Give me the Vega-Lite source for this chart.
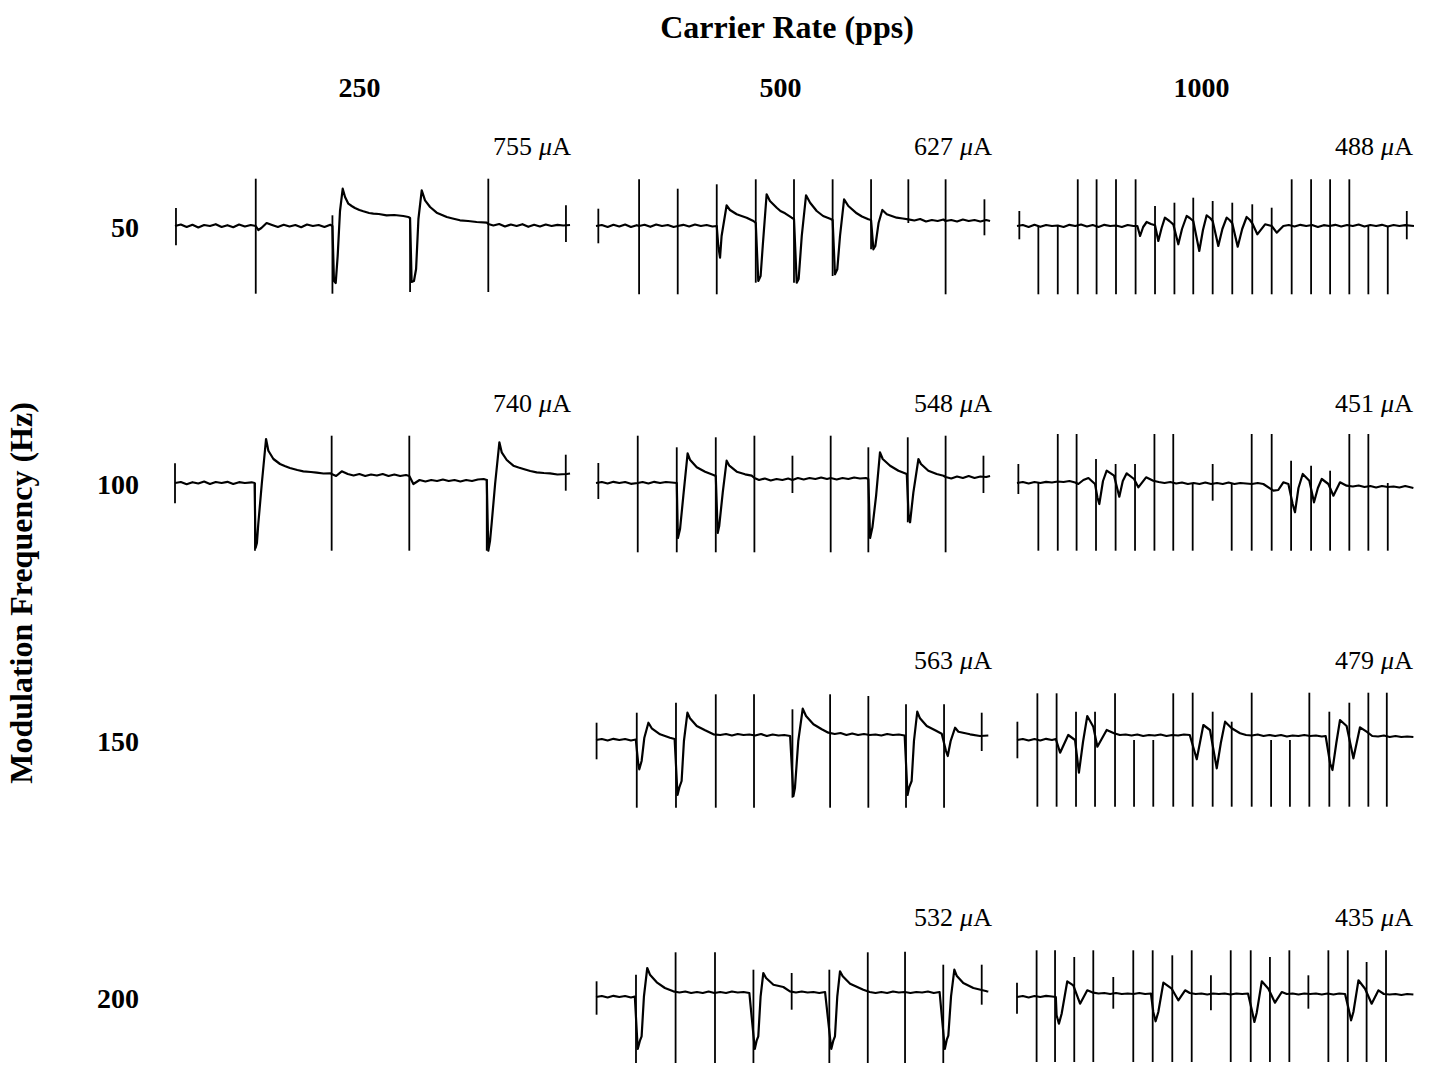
{
"$schema":"https://vega.github.io/schema/vega-lite/v6.json",
"background":"white",
"padding":{"left":6,"top":12,"right":5,"bottom":0},
"bounds":"flush",
"config":{"font":"Liberation Serif","view":{"stroke":null}},
"data":{"values":[
{"r":250,"m":50,"a":"755"},{"r":500,"m":50,"a":"627"},{"r":1000,"m":50,"a":"488"},
{"r":250,"m":100,"a":"740"},{"r":500,"m":100,"a":"548"},{"r":1000,"m":100,"a":"451"},
{"r":500,"m":150,"a":"563"},{"r":1000,"m":150,"a":"479"},
{"r":500,"m":200,"a":"532"},{"r":1000,"m":200,"a":"435"},
{"r":250,"m":50,"c":"250"},{"r":500,"m":50,"c":"500"},{"r":1000,"m":50,"c":"1000"},
{"r":250,"m":50,"h":"50"},{"r":250,"m":100,"h":"100"},{"r":250,"m":150,"h":"150"},{"r":250,"m":200,"h":"200"},
{"r":250,"m":150,"y":"Modulation Frequency (Hz)"},
{"r":500,"m":50,"ct":"Carrier Rate (pps)"},

{"r":250,"m":50,"t":0.05,"lo":-1.93,"hi":1.8},{"r":250,"m":50,"t":4.16,"lo":-6.77,"hi":4.73},{"r":250,"m":50,"t":8.11,"lo":-6.77,"hi":1.07},{"r":250,"m":50,"t":12.11,"lo":-6.6,"hi":0.73},{"r":250,"m":50,"t":16.14,"lo":-6.6,"hi":4.73},{"r":250,"m":50,"t":20.14,"lo":-1.6,"hi":2.07},

{"r":500,"m":50,"t":0.12,"lo":-1.73,"hi":1.73},{"r":500,"m":50,"t":2.22,"lo":-6.83,"hi":4.67},{"r":500,"m":50,"t":4.21,"lo":-6.83,"hi":3.73},{"r":500,"m":50,"t":6.22,"lo":-6.83,"hi":4.17},{"r":500,"m":50,"t":8.23,"lo":-5.67,"hi":4.67},{"r":500,"m":50,"t":10.2,"lo":-5.67,"hi":4.67},{"r":500,"m":50,"t":12.19,"lo":-5.0,"hi":4.67},{"r":500,"m":50,"t":14.17,"lo":-2.33,"hi":4.67},{"r":500,"m":50,"t":16.09,"lo":0.3,"hi":4.67},{"r":500,"m":50,"t":18.01,"lo":-6.83,"hi":4.67},{"r":500,"m":50,"t":20.01,"lo":-0.93,"hi":2.67},

{"r":1000,"m":50,"t":0.12,"lo":-1.33,"hi":1.5},{"r":1000,"m":50,"t":1.1,"lo":-6.83,"hi":0},{"r":1000,"m":50,"t":2.1,"lo":-6.83,"hi":0},{"r":1000,"m":50,"t":3.13,"lo":-6.83,"hi":4.67},{"r":1000,"m":50,"t":4.1,"lo":-6.83,"hi":4.67},{"r":1000,"m":50,"t":5.1,"lo":-6.83,"hi":4.67},{"r":1000,"m":50,"t":6.11,"lo":-6.83,"hi":4.67},{"r":1000,"m":50,"t":7.11,"lo":-6.83,"hi":2.0},{"r":1000,"m":50,"t":8.11,"lo":-6.83,"hi":2.33},{"r":1000,"m":50,"t":9.08,"lo":-6.83,"hi":2.83},{"r":1000,"m":50,"t":10.08,"lo":-6.83,"hi":2.5},{"r":1000,"m":50,"t":11.09,"lo":-6.83,"hi":2.33},{"r":1000,"m":50,"t":12.12,"lo":-6.83,"hi":2.17},{"r":1000,"m":50,"t":13.12,"lo":-6.83,"hi":1.83},{"r":1000,"m":50,"t":14.15,"lo":-6.83,"hi":4.67},{"r":1000,"m":50,"t":15.15,"lo":-6.83,"hi":4.67},{"r":1000,"m":50,"t":16.13,"lo":-6.83,"hi":4.67},{"r":1000,"m":50,"t":17.12,"lo":-6.83,"hi":4.67},{"r":1000,"m":50,"t":18.1,"lo":-6.83,"hi":0},{"r":1000,"m":50,"t":19.1,"lo":-6.83,"hi":0},{"r":1000,"m":50,"t":20.08,"lo":-1.33,"hi":1.5},

{"r":250,"m":100,"t":0.0,"lo":-2.03,"hi":1.97},{"r":250,"m":100,"t":4.12,"lo":-6.77,"hi":0},{"r":250,"m":100,"t":8.07,"lo":-6.77,"hi":4.73},{"r":250,"m":100,"t":12.07,"lo":-6.77,"hi":4.73},{"r":250,"m":100,"t":16.06,"lo":-6.77,"hi":0.4},{"r":250,"m":100,"t":20.13,"lo":-0.77,"hi":2.83},

{"r":500,"m":100,"t":0.12,"lo":-1.6,"hi":2.0},{"r":500,"m":100,"t":2.15,"lo":-6.93,"hi":4.73},{"r":500,"m":100,"t":4.16,"lo":-6.93,"hi":3.57},{"r":500,"m":100,"t":6.17,"lo":-6.93,"hi":4.57},{"r":500,"m":100,"t":8.16,"lo":-6.93,"hi":4.73},{"r":500,"m":100,"t":10.12,"lo":-1.0,"hi":2.73},{"r":500,"m":100,"t":12.09,"lo":-6.93,"hi":4.73},{"r":500,"m":100,"t":14.03,"lo":-6.93,"hi":3.57},{"r":500,"m":100,"t":16.06,"lo":-3.93,"hi":4.57},{"r":500,"m":100,"t":18.01,"lo":-6.93,"hi":4.73},{"r":500,"m":100,"t":19.96,"lo":-1.0,"hi":2.73},

{"r":1000,"m":100,"t":0.07,"lo":-1.1,"hi":1.9},{"r":1000,"m":100,"t":1.1,"lo":-6.77,"hi":0},{"r":1000,"m":100,"t":2.1,"lo":-6.77,"hi":4.9},{"r":1000,"m":100,"t":3.07,"lo":-6.77,"hi":4.9},{"r":1000,"m":100,"t":4.07,"lo":-6.77,"hi":2.4},{"r":1000,"m":100,"t":5.08,"lo":-6.77,"hi":1.9},{"r":1000,"m":100,"t":6.08,"lo":-6.77,"hi":1.9},{"r":1000,"m":100,"t":7.08,"lo":-6.77,"hi":4.9},{"r":1000,"m":100,"t":8.05,"lo":-6.77,"hi":4.9},{"r":1000,"m":100,"t":9.05,"lo":-6.77,"hi":0},{"r":1000,"m":100,"t":10.08,"lo":-1.77,"hi":1.9},{"r":1000,"m":100,"t":11.06,"lo":-6.77,"hi":0},{"r":1000,"m":100,"t":12.09,"lo":-6.77,"hi":4.9},{"r":1000,"m":100,"t":13.12,"lo":-6.77,"hi":4.9},{"r":1000,"m":100,"t":14.12,"lo":-6.77,"hi":2.23},{"r":1000,"m":100,"t":15.15,"lo":-6.77,"hi":1.73},{"r":1000,"m":100,"t":16.13,"lo":-6.77,"hi":1.23},{"r":1000,"m":100,"t":17.12,"lo":-6.77,"hi":4.9},{"r":1000,"m":100,"t":18.1,"lo":-6.77,"hi":4.9},{"r":1000,"m":100,"t":19.1,"lo":-6.77,"hi":0},

{"r":500,"m":150,"t":0.03,"lo":-1.93,"hi":1.73},{"r":500,"m":150,"t":2.1,"lo":-6.77,"hi":2.73},{"r":500,"m":150,"t":4.12,"lo":-6.77,"hi":3.73},{"r":500,"m":150,"t":6.17,"lo":-6.77,"hi":4.57},{"r":500,"m":150,"t":8.14,"lo":-6.77,"hi":4.57},{"r":500,"m":150,"t":10.12,"lo":-5.77,"hi":3.07},{"r":500,"m":150,"t":12.06,"lo":-6.77,"hi":4.57},{"r":500,"m":150,"t":14.03,"lo":-6.77,"hi":4.4},{"r":500,"m":150,"t":15.97,"lo":-6.77,"hi":3.57},{"r":500,"m":150,"t":17.93,"lo":-6.77,"hi":3.57},{"r":500,"m":150,"t":19.87,"lo":-1.1,"hi":2.73},

{"r":1000,"m":150,"t":0.02,"lo":-1.83,"hi":1.83},{"r":1000,"m":150,"t":1.05,"lo":-6.67,"hi":4.67},{"r":1000,"m":150,"t":2.04,"lo":-6.67,"hi":4.67},{"r":1000,"m":150,"t":3.04,"lo":-6.67,"hi":2.83},{"r":1000,"m":150,"t":4.02,"lo":-6.67,"hi":2.83},{"r":1000,"m":150,"t":5.05,"lo":-6.67,"hi":4.67},{"r":1000,"m":150,"t":6.03,"lo":-6.67,"hi":0},{"r":1000,"m":150,"t":7.02,"lo":-6.67,"hi":0},{"r":1000,"m":150,"t":8.05,"lo":-6.67,"hi":4.67},{"r":1000,"m":150,"t":9.05,"lo":-6.67,"hi":4.73},{"r":1000,"m":150,"t":10.08,"lo":-6.67,"hi":2.83},{"r":1000,"m":150,"t":11.06,"lo":-6.67,"hi":1.83},{"r":1000,"m":150,"t":12.09,"lo":-6.67,"hi":4.73},{"r":1000,"m":150,"t":13.09,"lo":-6.67,"hi":0},{"r":1000,"m":150,"t":14.06,"lo":-6.67,"hi":0},{"r":1000,"m":150,"t":15.06,"lo":-6.67,"hi":4.73},{"r":1000,"m":150,"t":16.09,"lo":-6.67,"hi":2.83},{"r":1000,"m":150,"t":17.12,"lo":-6.67,"hi":3.73},{"r":1000,"m":150,"t":18.1,"lo":-6.67,"hi":4.73},{"r":1000,"m":150,"t":19.05,"lo":-6.67,"hi":4.73},

{"r":500,"m":200,"t":0.03,"lo":-1.77,"hi":1.57},{"r":500,"m":200,"t":2.06,"lo":-6.6,"hi":2.23},{"r":500,"m":200,"t":4.1,"lo":-6.6,"hi":4.47},{"r":500,"m":200,"t":6.13,"lo":-6.6,"hi":4.47},{"r":500,"m":200,"t":8.11,"lo":-6.6,"hi":2.73},{"r":500,"m":200,"t":10.08,"lo":-1.27,"hi":2.4},{"r":500,"m":200,"t":12.02,"lo":-6.6,"hi":2.73},{"r":500,"m":200,"t":14.0,"lo":-6.6,"hi":4.47},{"r":500,"m":200,"t":15.92,"lo":-6.6,"hi":4.53},{"r":500,"m":200,"t":17.89,"lo":-6.6,"hi":3.23},{"r":500,"m":200,"t":19.87,"lo":-0.77,"hi":3.23},

{"r":1000,"m":200,"t":0.0,"lo":-1.67,"hi":1.43},{"r":1000,"m":200,"t":1.01,"lo":-6.5,"hi":4.67},{"r":1000,"m":200,"t":1.96,"lo":-6.5,"hi":4.67},{"r":1000,"m":200,"t":2.95,"lo":-6.5,"hi":4.0},{"r":1000,"m":200,"t":3.93,"lo":-6.5,"hi":4.67},{"r":1000,"m":200,"t":4.96,"lo":-1.17,"hi":2.0},{"r":1000,"m":200,"t":5.99,"lo":-6.5,"hi":4.67},{"r":1000,"m":200,"t":6.99,"lo":-6.5,"hi":4.67},{"r":1000,"m":200,"t":8.0,"lo":-6.5,"hi":4.17},{"r":1000,"m":200,"t":9.0,"lo":-6.5,"hi":4.67},{"r":1000,"m":200,"t":9.99,"lo":-1.33,"hi":2.17},{"r":1000,"m":200,"t":11.01,"lo":-6.5,"hi":4.67},{"r":1000,"m":200,"t":12.04,"lo":-6.5,"hi":4.67},{"r":1000,"m":200,"t":13.03,"lo":-6.5,"hi":4.0},{"r":1000,"m":200,"t":14.03,"lo":-6.5,"hi":4.67},{"r":1000,"m":200,"t":15.01,"lo":-1.17,"hi":2.17},{"r":1000,"m":200,"t":16.04,"lo":-6.5,"hi":4.67},{"r":1000,"m":200,"t":17.04,"lo":-6.5,"hi":4.67},{"r":1000,"m":200,"t":18.01,"lo":-6.5,"hi":3.5},{"r":1000,"m":200,"t":19.01,"lo":-6.5,"hi":4.67},

{"r":250,"m":50,"t":0,"v":0},{"r":250,"m":50,"t":0.3,"v":0.15},{"r":250,"m":50,"t":0.6,"v":-0.1},{"r":250,"m":50,"t":0.9,"v":0.12},{"r":250,"m":50,"t":1.2,"v":-0.15},{"r":250,"m":50,"t":1.5,"v":0.1},{"r":250,"m":50,"t":1.8,"v":0},{"r":250,"m":50,"t":2.1,"v":0.18},{"r":250,"m":50,"t":2.4,"v":-0.1},{"r":250,"m":50,"t":2.7,"v":0.08},{"r":250,"m":50,"t":3.0,"v":-0.12},{"r":250,"m":50,"t":3.3,"v":0.15},{"r":250,"m":50,"t":3.6,"v":-0.05},{"r":250,"m":50,"t":3.9,"v":0.1},{"r":250,"m":50,"t":4.16,"v":0},{"r":250,"m":50,"t":4.29,"v":-0.4},{"r":250,"m":50,"t":4.45,"v":-0.2},{"r":250,"m":50,"t":4.72,"v":0.3},{"r":250,"m":50,"t":5.0,"v":0.1},{"r":250,"m":50,"t":5.3,"v":-0.1},{"r":250,"m":50,"t":5.6,"v":0.12},{"r":250,"m":50,"t":5.9,"v":-0.05},{"r":250,"m":50,"t":6.2,"v":0.1},{"r":250,"m":50,"t":6.5,"v":-0.12},{"r":250,"m":50,"t":6.8,"v":0.15},{"r":250,"m":50,"t":7.1,"v":0},{"r":250,"m":50,"t":7.4,"v":0.1},{"r":250,"m":50,"t":7.7,"v":-0.1},{"r":250,"m":50,"t":8.0,"v":0.12},{"r":250,"m":50,"t":8.11,"v":0},{"r":250,"m":50,"t":8.19,"v":-5.5},{"r":250,"m":50,"t":8.28,"v":-5.7},{"r":250,"m":50,"t":8.38,"v":-3.0},{"r":250,"m":50,"t":8.5,"v":1.5},{"r":250,"m":50,"t":8.64,"v":3.73},{"r":250,"m":50,"t":8.76,"v":2.9},{"r":250,"m":50,"t":8.93,"v":2.23},{"r":250,"m":50,"t":9.1,"v":2.0},{"r":250,"m":50,"t":9.27,"v":1.8},{"r":250,"m":50,"t":9.5,"v":1.6},{"r":250,"m":50,"t":9.7,"v":1.47},{"r":250,"m":50,"t":10.0,"v":1.3},{"r":250,"m":50,"t":10.22,"v":1.23},{"r":250,"m":50,"t":10.5,"v":1.2},{"r":250,"m":50,"t":10.9,"v":1.07},{"r":250,"m":50,"t":11.3,"v":1.1},{"r":250,"m":50,"t":11.76,"v":1.0},{"r":250,"m":50,"t":12.02,"v":0.9},{"r":250,"m":50,"t":12.11,"v":0.8},{"r":250,"m":50,"t":12.19,"v":-5.6},{"r":250,"m":50,"t":12.31,"v":-5.5},{"r":250,"m":50,"t":12.42,"v":-4.3},{"r":250,"m":50,"t":12.54,"v":0.7},{"r":250,"m":50,"t":12.71,"v":3.57},{"r":250,"m":50,"t":12.88,"v":2.57},{"r":250,"m":50,"t":13.14,"v":1.9},{"r":250,"m":50,"t":13.48,"v":1.33},{"r":250,"m":50,"t":14.0,"v":0.9},{"r":250,"m":50,"t":14.3,"v":0.75},{"r":250,"m":50,"t":14.68,"v":0.57},{"r":250,"m":50,"t":15.1,"v":0.5},{"r":250,"m":50,"t":15.54,"v":0.4},{"r":250,"m":50,"t":16.06,"v":0.33},{"r":250,"m":50,"t":16.14,"v":0.2},{"r":250,"m":50,"t":16.4,"v":0.05},{"r":250,"m":50,"t":16.7,"v":0.2},{"r":250,"m":50,"t":17.0,"v":-0.05},{"r":250,"m":50,"t":17.3,"v":0.15},{"r":250,"m":50,"t":17.6,"v":0},{"r":250,"m":50,"t":17.9,"v":0.18},{"r":250,"m":50,"t":18.2,"v":-0.08},{"r":250,"m":50,"t":18.5,"v":0.12},{"r":250,"m":50,"t":18.8,"v":-0.05},{"r":250,"m":50,"t":19.1,"v":0.15},{"r":250,"m":50,"t":19.4,"v":0},{"r":250,"m":50,"t":19.7,"v":0.12},{"r":250,"m":50,"t":20.0,"v":0.05},{"r":250,"m":50,"t":20.35,"v":0.1},

{"r":500,"m":50,"t":0,"v":0},{"r":500,"m":50,"t":0.3,"v":0.1},{"r":500,"m":50,"t":0.6,"v":-0.1},{"r":500,"m":50,"t":0.9,"v":0.12},{"r":500,"m":50,"t":1.2,"v":-0.05},{"r":500,"m":50,"t":1.5,"v":0.15},{"r":500,"m":50,"t":1.8,"v":-0.1},{"r":500,"m":50,"t":2.1,"v":0.08},{"r":500,"m":50,"t":2.22,"v":0},{"r":500,"m":50,"t":2.5,"v":0.12},{"r":500,"m":50,"t":2.8,"v":-0.08},{"r":500,"m":50,"t":3.1,"v":0.15},{"r":500,"m":50,"t":3.4,"v":0},{"r":500,"m":50,"t":3.7,"v":0.1},{"r":500,"m":50,"t":4.0,"v":-0.1},{"r":500,"m":50,"t":4.21,"v":0},{"r":500,"m":50,"t":4.5,"v":0.12},{"r":500,"m":50,"t":4.8,"v":-0.05},{"r":500,"m":50,"t":5.1,"v":0.15},{"r":500,"m":50,"t":5.4,"v":0},{"r":500,"m":50,"t":5.7,"v":0.1},{"r":500,"m":50,"t":6.0,"v":-0.05},{"r":500,"m":50,"t":6.22,"v":0},{"r":500,"m":50,"t":6.3,"v":-2.0},{"r":500,"m":50,"t":6.39,"v":-3.17},{"r":500,"m":50,"t":6.47,"v":-1.0},{"r":500,"m":50,"t":6.73,"v":2.07},{"r":500,"m":50,"t":6.9,"v":1.6},{"r":500,"m":50,"t":7.25,"v":1.17},{"r":500,"m":50,"t":7.5,"v":1.0},{"r":500,"m":50,"t":7.76,"v":0.83},{"r":500,"m":50,"t":8.11,"v":0.5},{"r":500,"m":50,"t":8.23,"v":0.3},{"r":500,"m":50,"t":8.36,"v":-5.5},{"r":500,"m":50,"t":8.48,"v":-5.0},{"r":500,"m":50,"t":8.59,"v":-2.0},{"r":500,"m":50,"t":8.79,"v":3.17},{"r":500,"m":50,"t":8.96,"v":2.5},{"r":500,"m":50,"t":9.31,"v":1.83},{"r":500,"m":50,"t":9.5,"v":1.5},{"r":500,"m":50,"t":9.74,"v":1.27},{"r":500,"m":50,"t":10.08,"v":0.83},{"r":500,"m":50,"t":10.2,"v":0.7},{"r":500,"m":50,"t":10.34,"v":-5.67},{"r":500,"m":50,"t":10.44,"v":-5.3},{"r":500,"m":50,"t":10.6,"v":-1.0},{"r":500,"m":50,"t":10.82,"v":3.07},{"r":500,"m":50,"t":11.03,"v":2.33},{"r":500,"m":50,"t":11.37,"v":1.5},{"r":500,"m":50,"t":11.7,"v":1.0},{"r":500,"m":50,"t":12.06,"v":0.73},{"r":500,"m":50,"t":12.19,"v":0.6},{"r":500,"m":50,"t":12.31,"v":-4.83},{"r":500,"m":50,"t":12.43,"v":-4.33},{"r":500,"m":50,"t":12.57,"v":-1.0},{"r":500,"m":50,"t":12.78,"v":2.67},{"r":500,"m":50,"t":13.0,"v":2.0},{"r":500,"m":50,"t":13.43,"v":1.27},{"r":500,"m":50,"t":13.7,"v":0.95},{"r":500,"m":50,"t":14.03,"v":0.67},{"r":500,"m":50,"t":14.17,"v":0.6},{"r":500,"m":50,"t":14.29,"v":-2.33},{"r":500,"m":50,"t":14.39,"v":-2.0},{"r":500,"m":50,"t":14.56,"v":0.33},{"r":500,"m":50,"t":14.75,"v":1.6},{"r":500,"m":50,"t":14.98,"v":1.17},{"r":500,"m":50,"t":15.49,"v":0.83},{"r":500,"m":50,"t":15.8,"v":0.75},{"r":500,"m":50,"t":16.09,"v":0.67},{"r":500,"m":50,"t":16.4,"v":0.55},{"r":500,"m":50,"t":16.7,"v":0.7},{"r":500,"m":50,"t":17.0,"v":0.45},{"r":500,"m":50,"t":17.3,"v":0.6},{"r":500,"m":50,"t":17.6,"v":0.5},{"r":500,"m":50,"t":17.9,"v":0.65},{"r":500,"m":50,"t":18.01,"v":0.5},{"r":500,"m":50,"t":18.3,"v":0.6},{"r":500,"m":50,"t":18.6,"v":0.45},{"r":500,"m":50,"t":18.9,"v":0.65},{"r":500,"m":50,"t":19.2,"v":0.5},{"r":500,"m":50,"t":19.5,"v":0.6},{"r":500,"m":50,"t":19.8,"v":0.45},{"r":500,"m":50,"t":20.1,"v":0.6},{"r":500,"m":50,"t":20.3,"v":0.5},

{"r":1000,"m":50,"t":0,"v":0},{"r":1000,"m":50,"t":0.3,"v":0.1},{"r":1000,"m":50,"t":0.6,"v":-0.1},{"r":1000,"m":50,"t":0.9,"v":0.12},{"r":1000,"m":50,"t":1.2,"v":-0.08},{"r":1000,"m":50,"t":1.5,"v":0.1},{"r":1000,"m":50,"t":1.8,"v":0},{"r":1000,"m":50,"t":2.1,"v":0.05},{"r":1000,"m":50,"t":2.4,"v":-0.1},{"r":1000,"m":50,"t":2.7,"v":0.12},{"r":1000,"m":50,"t":3.0,"v":0},{"r":1000,"m":50,"t":3.3,"v":0.15},{"r":1000,"m":50,"t":3.6,"v":-0.05},{"r":1000,"m":50,"t":3.9,"v":0.1},{"r":1000,"m":50,"t":4.2,"v":-0.1},{"r":1000,"m":50,"t":4.5,"v":0.12},{"r":1000,"m":50,"t":4.8,"v":0},{"r":1000,"m":50,"t":5.1,"v":0.05},{"r":1000,"m":50,"t":5.4,"v":-0.1},{"r":1000,"m":50,"t":5.7,"v":0.1},{"r":1000,"m":50,"t":6.0,"v":0},{"r":1000,"m":50,"t":6.2,"v":0},{"r":1000,"m":50,"t":6.34,"v":-1.0},{"r":1000,"m":50,"t":6.5,"v":-0.1},{"r":1000,"m":50,"t":6.68,"v":0.4},{"r":1000,"m":50,"t":6.9,"v":0.2},{"r":1000,"m":50,"t":7.11,"v":0.07},{"r":1000,"m":50,"t":7.28,"v":-1.5},{"r":1000,"m":50,"t":7.45,"v":-0.2},{"r":1000,"m":50,"t":7.62,"v":0.83},{"r":1000,"m":50,"t":7.85,"v":0.5},{"r":1000,"m":50,"t":8.05,"v":0.17},{"r":1000,"m":50,"t":8.31,"v":-1.83},{"r":1000,"m":50,"t":8.5,"v":-0.3},{"r":1000,"m":50,"t":8.74,"v":1.0},{"r":1000,"m":50,"t":8.9,"v":0.8},{"r":1000,"m":50,"t":9.08,"v":0.5},{"r":1000,"m":50,"t":9.39,"v":-2.5},{"r":1000,"m":50,"t":9.58,"v":-0.4},{"r":1000,"m":50,"t":9.77,"v":1.07},{"r":1000,"m":50,"t":9.95,"v":0.8},{"r":1000,"m":50,"t":10.08,"v":0.5},{"r":1000,"m":50,"t":10.37,"v":-2.0},{"r":1000,"m":50,"t":10.58,"v":-0.3},{"r":1000,"m":50,"t":10.8,"v":0.83},{"r":1000,"m":50,"t":10.95,"v":0.6},{"r":1000,"m":50,"t":11.09,"v":0.27},{"r":1000,"m":50,"t":11.37,"v":-2.07},{"r":1000,"m":50,"t":11.6,"v":-0.3},{"r":1000,"m":50,"t":11.83,"v":0.9},{"r":1000,"m":50,"t":12.0,"v":0.6},{"r":1000,"m":50,"t":12.12,"v":0.27},{"r":1000,"m":50,"t":12.38,"v":-0.83},{"r":1000,"m":50,"t":12.78,"v":0.17},{"r":1000,"m":50,"t":13.12,"v":0},{"r":1000,"m":50,"t":13.38,"v":-0.67},{"r":1000,"m":50,"t":13.72,"v":0},{"r":1000,"m":50,"t":14.0,"v":0.1},{"r":1000,"m":50,"t":14.3,"v":-0.05},{"r":1000,"m":50,"t":14.6,"v":0.12},{"r":1000,"m":50,"t":14.9,"v":0},{"r":1000,"m":50,"t":15.2,"v":0.1},{"r":1000,"m":50,"t":15.5,"v":-0.1},{"r":1000,"m":50,"t":15.8,"v":0.08},{"r":1000,"m":50,"t":16.1,"v":0},{"r":1000,"m":50,"t":16.4,"v":0.12},{"r":1000,"m":50,"t":16.7,"v":-0.05},{"r":1000,"m":50,"t":17.0,"v":0.1},{"r":1000,"m":50,"t":17.3,"v":0},{"r":1000,"m":50,"t":17.6,"v":0.15},{"r":1000,"m":50,"t":17.9,"v":-0.05},{"r":1000,"m":50,"t":18.2,"v":0.1},{"r":1000,"m":50,"t":18.5,"v":0},{"r":1000,"m":50,"t":18.8,"v":0.12},{"r":1000,"m":50,"t":19.1,"v":-0.05},{"r":1000,"m":50,"t":19.4,"v":0.1},{"r":1000,"m":50,"t":19.7,"v":0},{"r":1000,"m":50,"t":20.0,"v":0.08},{"r":1000,"m":50,"t":20.45,"v":0},

{"r":250,"m":100,"t":0,"v":0},{"r":250,"m":100,"t":0.3,"v":0.1},{"r":250,"m":100,"t":0.6,"v":-0.12},{"r":250,"m":100,"t":0.9,"v":0.08},{"r":250,"m":100,"t":1.2,"v":-0.05},{"r":250,"m":100,"t":1.5,"v":0.15},{"r":250,"m":100,"t":1.8,"v":-0.1},{"r":250,"m":100,"t":2.1,"v":0.1},{"r":250,"m":100,"t":2.4,"v":0},{"r":250,"m":100,"t":2.7,"v":0.12},{"r":250,"m":100,"t":3.0,"v":-0.1},{"r":250,"m":100,"t":3.3,"v":0.08},{"r":250,"m":100,"t":3.6,"v":0},{"r":250,"m":100,"t":3.95,"v":0.07},{"r":250,"m":100,"t":4.1,"v":0},{"r":250,"m":100,"t":4.15,"v":-6.5},{"r":250,"m":100,"t":4.22,"v":-6.0},{"r":250,"m":100,"t":4.29,"v":-4.1},{"r":250,"m":100,"t":4.47,"v":-0.1},{"r":250,"m":100,"t":4.69,"v":4.4},{"r":250,"m":100,"t":4.81,"v":3.23},{"r":250,"m":100,"t":5.07,"v":2.4},{"r":250,"m":100,"t":5.41,"v":1.9},{"r":250,"m":100,"t":5.65,"v":1.7},{"r":250,"m":100,"t":5.92,"v":1.5},{"r":250,"m":100,"t":6.3,"v":1.3},{"r":250,"m":100,"t":6.61,"v":1.17},{"r":250,"m":100,"t":7.0,"v":1.1},{"r":250,"m":100,"t":7.3,"v":1.03},{"r":250,"m":100,"t":7.65,"v":0.95},{"r":250,"m":100,"t":7.99,"v":0.97},{"r":250,"m":100,"t":8.07,"v":0.9},{"r":250,"m":100,"t":8.3,"v":0.7},{"r":250,"m":100,"t":8.59,"v":1.17},{"r":250,"m":100,"t":8.9,"v":0.9},{"r":250,"m":100,"t":9.2,"v":0.75},{"r":250,"m":100,"t":9.5,"v":0.9},{"r":250,"m":100,"t":9.8,"v":0.7},{"r":250,"m":100,"t":10.1,"v":0.85},{"r":250,"m":100,"t":10.4,"v":0.75},{"r":250,"m":100,"t":10.7,"v":0.9},{"r":250,"m":100,"t":11.0,"v":0.7},{"r":250,"m":100,"t":11.3,"v":0.85},{"r":250,"m":100,"t":11.6,"v":0.7},{"r":250,"m":100,"t":11.9,"v":0.8},{"r":250,"m":100,"t":12.07,"v":0.7},{"r":250,"m":100,"t":12.28,"v":-0.1},{"r":250,"m":100,"t":12.6,"v":0.3},{"r":250,"m":100,"t":12.9,"v":0.15},{"r":250,"m":100,"t":13.2,"v":0.3},{"r":250,"m":100,"t":13.5,"v":0.2},{"r":250,"m":100,"t":13.8,"v":0.35},{"r":250,"m":100,"t":14.1,"v":0.2},{"r":250,"m":100,"t":14.4,"v":0.3},{"r":250,"m":100,"t":14.7,"v":0.15},{"r":250,"m":100,"t":15.0,"v":0.3},{"r":250,"m":100,"t":15.3,"v":0.2},{"r":250,"m":100,"t":15.6,"v":0.35},{"r":250,"m":100,"t":15.9,"v":0.4},{"r":250,"m":100,"t":16.06,"v":0.3},{"r":250,"m":100,"t":16.14,"v":-6.77},{"r":250,"m":100,"t":16.23,"v":-5.77},{"r":250,"m":100,"t":16.31,"v":-4.1},{"r":250,"m":100,"t":16.49,"v":-0.1},{"r":250,"m":100,"t":16.71,"v":4.07},{"r":250,"m":100,"t":16.83,"v":3.07},{"r":250,"m":100,"t":17.09,"v":2.3},{"r":250,"m":100,"t":17.43,"v":1.73},{"r":250,"m":100,"t":17.7,"v":1.55},{"r":250,"m":100,"t":17.95,"v":1.4},{"r":250,"m":100,"t":18.3,"v":1.2},{"r":250,"m":100,"t":18.63,"v":1.07},{"r":250,"m":100,"t":19.0,"v":1.0},{"r":250,"m":100,"t":19.32,"v":0.97},{"r":250,"m":100,"t":19.7,"v":0.85},{"r":250,"m":100,"t":20.18,"v":0.9},{"r":250,"m":100,"t":20.35,"v":0.95},

{"r":500,"m":100,"t":0,"v":0},{"r":500,"m":100,"t":0.3,"v":0.1},{"r":500,"m":100,"t":0.6,"v":-0.05},{"r":500,"m":100,"t":0.9,"v":0.12},{"r":500,"m":100,"t":1.2,"v":0},{"r":500,"m":100,"t":1.5,"v":0.1},{"r":500,"m":100,"t":1.8,"v":-0.08},{"r":500,"m":100,"t":2.15,"v":0},{"r":500,"m":100,"t":2.4,"v":0.1},{"r":500,"m":100,"t":2.7,"v":-0.05},{"r":500,"m":100,"t":3.0,"v":0.12},{"r":500,"m":100,"t":3.3,"v":0},{"r":500,"m":100,"t":3.6,"v":0.1},{"r":500,"m":100,"t":3.9,"v":0.05},{"r":500,"m":100,"t":4.16,"v":0},{"r":500,"m":100,"t":4.22,"v":-5.5},{"r":500,"m":100,"t":4.33,"v":-4.6},{"r":500,"m":100,"t":4.5,"v":-1.27},{"r":500,"m":100,"t":4.72,"v":2.97},{"r":500,"m":100,"t":4.84,"v":2.33},{"r":500,"m":100,"t":5.19,"v":1.57},{"r":500,"m":100,"t":5.62,"v":1.13},{"r":500,"m":100,"t":6.05,"v":0.8},{"r":500,"m":100,"t":6.17,"v":0.7},{"r":500,"m":100,"t":6.27,"v":-5.0},{"r":500,"m":100,"t":6.35,"v":-4.27},{"r":500,"m":100,"t":6.53,"v":-0.93},{"r":500,"m":100,"t":6.73,"v":2.23},{"r":500,"m":100,"t":6.87,"v":1.73},{"r":500,"m":100,"t":7.25,"v":1.13},{"r":500,"m":100,"t":7.68,"v":0.87},{"r":500,"m":100,"t":8.02,"v":0.73},{"r":500,"m":100,"t":8.16,"v":0.5},{"r":500,"m":100,"t":8.4,"v":0.3},{"r":500,"m":100,"t":8.7,"v":0.45},{"r":500,"m":100,"t":9.0,"v":0.25},{"r":500,"m":100,"t":9.3,"v":0.4},{"r":500,"m":100,"t":9.6,"v":0.3},{"r":500,"m":100,"t":9.9,"v":0.45},{"r":500,"m":100,"t":10.12,"v":0.3},{"r":500,"m":100,"t":10.4,"v":0.5},{"r":500,"m":100,"t":10.7,"v":0.35},{"r":500,"m":100,"t":11.0,"v":0.5},{"r":500,"m":100,"t":11.3,"v":0.4},{"r":500,"m":100,"t":11.6,"v":0.55},{"r":500,"m":100,"t":11.9,"v":0.4},{"r":500,"m":100,"t":12.09,"v":0.5},{"r":500,"m":100,"t":12.4,"v":0.35},{"r":500,"m":100,"t":12.7,"v":0.5},{"r":500,"m":100,"t":13.0,"v":0.4},{"r":500,"m":100,"t":13.3,"v":0.55},{"r":500,"m":100,"t":13.6,"v":0.45},{"r":500,"m":100,"t":13.9,"v":0.5},{"r":500,"m":100,"t":14.03,"v":0.4},{"r":500,"m":100,"t":14.12,"v":-5.5},{"r":500,"m":100,"t":14.24,"v":-4.43},{"r":500,"m":100,"t":14.43,"v":-1.27},{"r":500,"m":100,"t":14.63,"v":3.07},{"r":500,"m":100,"t":14.77,"v":2.4},{"r":500,"m":100,"t":15.15,"v":1.73},{"r":500,"m":100,"t":15.58,"v":1.23},{"r":500,"m":100,"t":16.01,"v":0.9},{"r":500,"m":100,"t":16.11,"v":-3.5},{"r":500,"m":100,"t":16.18,"v":-3.93},{"r":500,"m":100,"t":16.35,"v":-0.93},{"r":500,"m":100,"t":16.61,"v":2.4},{"r":500,"m":100,"t":16.74,"v":1.9},{"r":500,"m":100,"t":17.12,"v":1.23},{"r":500,"m":100,"t":17.55,"v":0.9},{"r":500,"m":100,"t":17.9,"v":0.73},{"r":500,"m":100,"t":18.01,"v":0.6},{"r":500,"m":100,"t":18.3,"v":0.45},{"r":500,"m":100,"t":18.6,"v":0.65},{"r":500,"m":100,"t":18.9,"v":0.5},{"r":500,"m":100,"t":19.2,"v":0.7},{"r":500,"m":100,"t":19.5,"v":0.5},{"r":500,"m":100,"t":19.8,"v":0.65},{"r":500,"m":100,"t":20.1,"v":0.6},{"r":500,"m":100,"t":20.3,"v":0.7},

{"r":1000,"m":100,"t":0,"v":0},{"r":1000,"m":100,"t":0.3,"v":0.1},{"r":1000,"m":100,"t":0.6,"v":-0.05},{"r":1000,"m":100,"t":0.9,"v":0.1},{"r":1000,"m":100,"t":1.2,"v":0},{"r":1000,"m":100,"t":1.5,"v":0.12},{"r":1000,"m":100,"t":1.8,"v":0.05},{"r":1000,"m":100,"t":2.1,"v":0.15},{"r":1000,"m":100,"t":2.4,"v":0.1},{"r":1000,"m":100,"t":2.7,"v":0.2},{"r":1000,"m":100,"t":3.0,"v":0.05},{"r":1000,"m":100,"t":3.16,"v":-0.1},{"r":1000,"m":100,"t":3.42,"v":0.3},{"r":1000,"m":100,"t":3.68,"v":0.5},{"r":1000,"m":100,"t":4.02,"v":-0.1},{"r":1000,"m":100,"t":4.14,"v":-1.43},{"r":1000,"m":100,"t":4.24,"v":-2.1},{"r":1000,"m":100,"t":4.43,"v":0.2},{"r":1000,"m":100,"t":4.62,"v":1.23},{"r":1000,"m":100,"t":5.0,"v":0.73},{"r":1000,"m":100,"t":5.27,"v":-1.37},{"r":1000,"m":100,"t":5.45,"v":0.2},{"r":1000,"m":100,"t":5.65,"v":0.97},{"r":1000,"m":100,"t":6.03,"v":0.4},{"r":1000,"m":100,"t":6.25,"v":-0.43},{"r":1000,"m":100,"t":6.65,"v":0.57},{"r":1000,"m":100,"t":7.02,"v":0.23},{"r":1000,"m":100,"t":7.3,"v":0.1},{"r":1000,"m":100,"t":7.6,"v":0},{"r":1000,"m":100,"t":7.9,"v":0.1},{"r":1000,"m":100,"t":8.2,"v":-0.05},{"r":1000,"m":100,"t":8.5,"v":0.05},{"r":1000,"m":100,"t":8.8,"v":-0.1},{"r":1000,"m":100,"t":9.1,"v":0},{"r":1000,"m":100,"t":9.4,"v":-0.1},{"r":1000,"m":100,"t":9.7,"v":0.05},{"r":1000,"m":100,"t":10.0,"v":-0.1},{"r":1000,"m":100,"t":10.3,"v":0},{"r":1000,"m":100,"t":10.6,"v":-0.1},{"r":1000,"m":100,"t":10.9,"v":0.05},{"r":1000,"m":100,"t":11.2,"v":-0.1},{"r":1000,"m":100,"t":11.5,"v":0},{"r":1000,"m":100,"t":11.8,"v":-0.05},{"r":1000,"m":100,"t":12.1,"v":-0.1},{"r":1000,"m":100,"t":12.4,"v":0},{"r":1000,"m":100,"t":12.69,"v":-0.1},{"r":1000,"m":100,"t":13.21,"v":-0.77},{"r":1000,"m":100,"t":13.46,"v":-0.7},{"r":1000,"m":100,"t":13.72,"v":0.07},{"r":1000,"m":100,"t":13.98,"v":-0.1},{"r":1000,"m":100,"t":14.2,"v":-2.1},{"r":1000,"m":100,"t":14.32,"v":-2.93},{"r":1000,"m":100,"t":14.5,"v":-0.5},{"r":1000,"m":100,"t":14.72,"v":0.9},{"r":1000,"m":100,"t":15.06,"v":0.23},{"r":1000,"m":100,"t":15.3,"v":-1.93},{"r":1000,"m":100,"t":15.5,"v":-0.5},{"r":1000,"m":100,"t":15.7,"v":0.4},{"r":1000,"m":100,"t":16.04,"v":-0.1},{"r":1000,"m":100,"t":16.3,"v":-1.27},{"r":1000,"m":100,"t":16.64,"v":0.07},{"r":1000,"m":100,"t":16.98,"v":-0.27},{"r":1000,"m":100,"t":17.3,"v":-0.35},{"r":1000,"m":100,"t":17.6,"v":-0.25},{"r":1000,"m":100,"t":17.9,"v":-0.4},{"r":1000,"m":100,"t":18.2,"v":-0.3},{"r":1000,"m":100,"t":18.5,"v":-0.45},{"r":1000,"m":100,"t":18.8,"v":-0.3},{"r":1000,"m":100,"t":19.1,"v":-0.4},{"r":1000,"m":100,"t":19.4,"v":-0.35},{"r":1000,"m":100,"t":19.7,"v":-0.45},{"r":1000,"m":100,"t":20.0,"v":-0.3},{"r":1000,"m":100,"t":20.42,"v":-0.5},

{"r":500,"m":150,"t":0,"v":0},{"r":500,"m":150,"t":0.3,"v":0.1},{"r":500,"m":150,"t":0.6,"v":-0.05},{"r":500,"m":150,"t":0.9,"v":0.12},{"r":500,"m":150,"t":1.2,"v":0},{"r":500,"m":150,"t":1.5,"v":0.1},{"r":500,"m":150,"t":1.8,"v":-0.05},{"r":500,"m":150,"t":2.05,"v":0.05},{"r":500,"m":150,"t":2.18,"v":-2.43},{"r":500,"m":150,"t":2.23,"v":-2.93},{"r":500,"m":150,"t":2.35,"v":-2.1},{"r":500,"m":150,"t":2.49,"v":0.23},{"r":500,"m":150,"t":2.7,"v":1.73},{"r":500,"m":150,"t":2.87,"v":1.17},{"r":500,"m":150,"t":3.3,"v":0.57},{"r":500,"m":150,"t":3.81,"v":0.23},{"r":500,"m":150,"t":4.05,"v":0.1},{"r":500,"m":150,"t":4.2,"v":-5.5},{"r":500,"m":150,"t":4.29,"v":-4.77},{"r":500,"m":150,"t":4.41,"v":-4.1},{"r":500,"m":150,"t":4.53,"v":-0.1},{"r":500,"m":150,"t":4.71,"v":2.73},{"r":500,"m":150,"t":4.84,"v":2.17},{"r":500,"m":150,"t":5.19,"v":1.4},{"r":500,"m":150,"t":5.62,"v":0.97},{"r":500,"m":150,"t":6.05,"v":0.57},{"r":500,"m":150,"t":6.4,"v":0.5},{"r":500,"m":150,"t":6.7,"v":0.6},{"r":500,"m":150,"t":7.0,"v":0.45},{"r":500,"m":150,"t":7.3,"v":0.6},{"r":500,"m":150,"t":7.6,"v":0.5},{"r":500,"m":150,"t":7.9,"v":0.55},{"r":500,"m":150,"t":8.2,"v":0.45},{"r":500,"m":150,"t":8.5,"v":0.6},{"r":500,"m":150,"t":8.8,"v":0.4},{"r":500,"m":150,"t":9.1,"v":0.55},{"r":500,"m":150,"t":9.4,"v":0.45},{"r":500,"m":150,"t":9.7,"v":0.5},{"r":500,"m":150,"t":10.0,"v":0.4},{"r":500,"m":150,"t":10.17,"v":-5.6},{"r":500,"m":150,"t":10.25,"v":-4.77},{"r":500,"m":150,"t":10.42,"v":-0.1},{"r":500,"m":150,"t":10.65,"v":3.13},{"r":500,"m":150,"t":10.82,"v":2.4},{"r":500,"m":150,"t":11.2,"v":1.57},{"r":500,"m":150,"t":11.63,"v":1.07},{"r":500,"m":150,"t":11.97,"v":0.73},{"r":500,"m":150,"t":12.3,"v":0.6},{"r":500,"m":150,"t":12.6,"v":0.7},{"r":500,"m":150,"t":12.9,"v":0.5},{"r":500,"m":150,"t":13.2,"v":0.65},{"r":500,"m":150,"t":13.5,"v":0.5},{"r":500,"m":150,"t":13.8,"v":0.6},{"r":500,"m":150,"t":14.1,"v":0.5},{"r":500,"m":150,"t":14.4,"v":0.55},{"r":500,"m":150,"t":14.7,"v":0.45},{"r":500,"m":150,"t":15.0,"v":0.6},{"r":500,"m":150,"t":15.3,"v":0.5},{"r":500,"m":150,"t":15.6,"v":0.55},{"r":500,"m":150,"t":15.9,"v":0.45},{"r":500,"m":150,"t":16.05,"v":-5.5},{"r":500,"m":150,"t":16.13,"v":-4.77},{"r":500,"m":150,"t":16.26,"v":-4.1},{"r":500,"m":150,"t":16.38,"v":-0.1},{"r":500,"m":150,"t":16.55,"v":2.83},{"r":500,"m":150,"t":16.69,"v":2.17},{"r":500,"m":150,"t":17.04,"v":1.4},{"r":500,"m":150,"t":17.47,"v":0.97},{"r":500,"m":150,"t":17.81,"v":0.63},{"r":500,"m":150,"t":18.03,"v":-1.1},{"r":500,"m":150,"t":18.12,"v":-1.6},{"r":500,"m":150,"t":18.27,"v":-0.1},{"r":500,"m":150,"t":18.5,"v":1.23},{"r":500,"m":150,"t":18.67,"v":0.83},{"r":500,"m":150,"t":19.27,"v":0.57},{"r":500,"m":150,"t":19.78,"v":0.4},{"r":500,"m":150,"t":20.21,"v":0.45},

{"r":1000,"m":150,"t":0,"v":0},{"r":1000,"m":150,"t":0.3,"v":0.1},{"r":1000,"m":150,"t":0.6,"v":-0.05},{"r":1000,"m":150,"t":0.9,"v":0.1},{"r":1000,"m":150,"t":1.2,"v":-0.05},{"r":1000,"m":150,"t":1.5,"v":0.12},{"r":1000,"m":150,"t":1.8,"v":0},{"r":1000,"m":150,"t":2.0,"v":0.1},{"r":1000,"m":150,"t":2.22,"v":-1.27},{"r":1000,"m":150,"t":2.64,"v":0.5},{"r":1000,"m":150,"t":2.99,"v":0},{"r":1000,"m":150,"t":3.19,"v":-3.27},{"r":1000,"m":150,"t":3.4,"v":-0.2},{"r":1000,"m":150,"t":3.62,"v":2.4},{"r":1000,"m":150,"t":3.93,"v":1.33},{"r":1000,"m":150,"t":4.14,"v":-0.67},{"r":1000,"m":150,"t":4.62,"v":1.0},{"r":1000,"m":150,"t":5.0,"v":0.67},{"r":1000,"m":150,"t":5.3,"v":0.5},{"r":1000,"m":150,"t":5.6,"v":0.55},{"r":1000,"m":150,"t":5.9,"v":0.45},{"r":1000,"m":150,"t":6.2,"v":0.55},{"r":1000,"m":150,"t":6.5,"v":0.4},{"r":1000,"m":150,"t":6.8,"v":0.5},{"r":1000,"m":150,"t":7.1,"v":0.45},{"r":1000,"m":150,"t":7.4,"v":0.55},{"r":1000,"m":150,"t":7.7,"v":0.4},{"r":1000,"m":150,"t":8.0,"v":0.5},{"r":1000,"m":150,"t":8.3,"v":0.45},{"r":1000,"m":150,"t":8.6,"v":0.55},{"r":1000,"m":150,"t":8.9,"v":0.5},{"r":1000,"m":150,"t":9.26,"v":-1.93},{"r":1000,"m":150,"t":9.6,"v":1.5},{"r":1000,"m":150,"t":9.94,"v":1.0},{"r":1000,"m":150,"t":10.29,"v":-2.83},{"r":1000,"m":150,"t":10.5,"v":-0.3},{"r":1000,"m":150,"t":10.72,"v":1.83},{"r":1000,"m":150,"t":11.06,"v":1.17},{"r":1000,"m":150,"t":11.49,"v":0.67},{"r":1000,"m":150,"t":11.8,"v":0.5},{"r":1000,"m":150,"t":12.1,"v":0.45},{"r":1000,"m":150,"t":12.4,"v":0.55},{"r":1000,"m":150,"t":12.7,"v":0.4},{"r":1000,"m":150,"t":13.0,"v":0.5},{"r":1000,"m":150,"t":13.3,"v":0.4},{"r":1000,"m":150,"t":13.6,"v":0.5},{"r":1000,"m":150,"t":13.9,"v":0.35},{"r":1000,"m":150,"t":14.2,"v":0.45},{"r":1000,"m":150,"t":14.5,"v":0.4},{"r":1000,"m":150,"t":14.8,"v":0.5},{"r":1000,"m":150,"t":15.1,"v":0.4},{"r":1000,"m":150,"t":15.4,"v":0.45},{"r":1000,"m":150,"t":15.7,"v":0.35},{"r":1000,"m":150,"t":15.9,"v":0.4},{"r":1000,"m":150,"t":16.13,"v":-2.33},{"r":1000,"m":150,"t":16.25,"v":-3.0},{"r":1000,"m":150,"t":16.45,"v":-0.3},{"r":1000,"m":150,"t":16.64,"v":2.0},{"r":1000,"m":150,"t":16.98,"v":1.4},{"r":1000,"m":150,"t":17.33,"v":-1.83},{"r":1000,"m":150,"t":17.67,"v":1.27},{"r":1000,"m":150,"t":18.01,"v":0.83},{"r":1000,"m":150,"t":18.3,"v":0.4},{"r":1000,"m":150,"t":18.6,"v":0.35},{"r":1000,"m":150,"t":18.9,"v":0.45},{"r":1000,"m":150,"t":19.2,"v":0.3},{"r":1000,"m":150,"t":19.5,"v":0.4},{"r":1000,"m":150,"t":19.8,"v":0.3},{"r":1000,"m":150,"t":20.1,"v":0.35},{"r":1000,"m":150,"t":20.42,"v":0.3},

{"r":500,"m":200,"t":0,"v":0},{"r":500,"m":200,"t":0.3,"v":0.1},{"r":500,"m":200,"t":0.6,"v":-0.05},{"r":500,"m":200,"t":0.9,"v":0.12},{"r":500,"m":200,"t":1.2,"v":0},{"r":500,"m":200,"t":1.5,"v":0.1},{"r":500,"m":200,"t":1.8,"v":-0.05},{"r":500,"m":200,"t":2.0,"v":0.05},{"r":500,"m":200,"t":2.15,"v":-5.2},{"r":500,"m":200,"t":2.27,"v":-4.33},{"r":500,"m":200,"t":2.35,"v":-3.93},{"r":500,"m":200,"t":2.47,"v":0.07},{"r":500,"m":200,"t":2.64,"v":2.9},{"r":500,"m":200,"t":2.78,"v":2.23},{"r":500,"m":200,"t":3.13,"v":1.47},{"r":500,"m":200,"t":3.55,"v":0.9},{"r":500,"m":200,"t":3.98,"v":0.57},{"r":500,"m":200,"t":4.3,"v":0.45},{"r":500,"m":200,"t":4.6,"v":0.55},{"r":500,"m":200,"t":4.9,"v":0.4},{"r":500,"m":200,"t":5.2,"v":0.5},{"r":500,"m":200,"t":5.5,"v":0.4},{"r":500,"m":200,"t":5.8,"v":0.55},{"r":500,"m":200,"t":6.1,"v":0.4},{"r":500,"m":200,"t":6.4,"v":0.5},{"r":500,"m":200,"t":6.7,"v":0.4},{"r":500,"m":200,"t":7.0,"v":0.55},{"r":500,"m":200,"t":7.3,"v":0.45},{"r":500,"m":200,"t":7.6,"v":0.5},{"r":500,"m":200,"t":7.9,"v":0.4},{"r":500,"m":200,"t":8.18,"v":-5.2},{"r":500,"m":200,"t":8.28,"v":-4.33},{"r":500,"m":200,"t":8.36,"v":-3.93},{"r":500,"m":200,"t":8.48,"v":0.07},{"r":500,"m":200,"t":8.62,"v":2.4},{"r":500,"m":200,"t":8.76,"v":1.9},{"r":500,"m":200,"t":9.14,"v":1.23},{"r":500,"m":200,"t":9.65,"v":1.0},{"r":500,"m":200,"t":9.99,"v":0.57},{"r":500,"m":200,"t":10.3,"v":0.45},{"r":500,"m":200,"t":10.6,"v":0.55},{"r":500,"m":200,"t":10.9,"v":0.45},{"r":500,"m":200,"t":11.2,"v":0.5},{"r":500,"m":200,"t":11.5,"v":0.4},{"r":500,"m":200,"t":11.8,"v":0.5},{"r":500,"m":200,"t":12.12,"v":-5.2},{"r":500,"m":200,"t":12.23,"v":-4.33},{"r":500,"m":200,"t":12.31,"v":-3.93},{"r":500,"m":200,"t":12.43,"v":0.07},{"r":500,"m":200,"t":12.57,"v":2.57},{"r":500,"m":200,"t":12.71,"v":2.07},{"r":500,"m":200,"t":13.09,"v":1.33},{"r":500,"m":200,"t":13.77,"v":0.73},{"r":500,"m":200,"t":14.1,"v":0.5},{"r":500,"m":200,"t":14.4,"v":0.4},{"r":500,"m":200,"t":14.7,"v":0.5},{"r":500,"m":200,"t":15.0,"v":0.4},{"r":500,"m":200,"t":15.3,"v":0.55},{"r":500,"m":200,"t":15.6,"v":0.45},{"r":500,"m":200,"t":15.9,"v":0.5},{"r":500,"m":200,"t":16.2,"v":0.4},{"r":500,"m":200,"t":16.5,"v":0.5},{"r":500,"m":200,"t":16.8,"v":0.45},{"r":500,"m":200,"t":17.1,"v":0.55},{"r":500,"m":200,"t":17.4,"v":0.4},{"r":500,"m":200,"t":17.7,"v":0.5},{"r":500,"m":200,"t":17.97,"v":-5.2},{"r":500,"m":200,"t":18.07,"v":-4.27},{"r":500,"m":200,"t":18.15,"v":-3.87},{"r":500,"m":200,"t":18.29,"v":0.07},{"r":500,"m":200,"t":18.46,"v":2.73},{"r":500,"m":200,"t":18.58,"v":2.13},{"r":500,"m":200,"t":18.92,"v":1.4},{"r":500,"m":200,"t":19.44,"v":0.9},{"r":500,"m":200,"t":20.13,"v":0.57},{"r":500,"m":200,"t":20.21,"v":0.55},

{"r":1000,"m":200,"t":0,"v":0},{"r":1000,"m":200,"t":0.3,"v":0.1},{"r":1000,"m":200,"t":0.6,"v":-0.05},{"r":1000,"m":200,"t":0.9,"v":0.1},{"r":1000,"m":200,"t":1.2,"v":0},{"r":1000,"m":200,"t":1.5,"v":0.12},{"r":1000,"m":200,"t":1.8,"v":0.05},{"r":1000,"m":200,"t":2.0,"v":0},{"r":1000,"m":200,"t":2.04,"v":-1.83},{"r":1000,"m":200,"t":2.16,"v":-2.67},{"r":1000,"m":200,"t":2.3,"v":-1.67},{"r":1000,"m":200,"t":2.59,"v":1.57},{"r":1000,"m":200,"t":2.9,"v":1.17},{"r":1000,"m":200,"t":3.25,"v":-0.67},{"r":1000,"m":200,"t":3.62,"v":0.67},{"r":1000,"m":200,"t":3.93,"v":0.43},{"r":1000,"m":200,"t":4.2,"v":0.35},{"r":1000,"m":200,"t":4.5,"v":0.4},{"r":1000,"m":200,"t":4.8,"v":0.3},{"r":1000,"m":200,"t":5.1,"v":0.4},{"r":1000,"m":200,"t":5.4,"v":0.3},{"r":1000,"m":200,"t":5.7,"v":0.35},{"r":1000,"m":200,"t":6.0,"v":0.3},{"r":1000,"m":200,"t":6.3,"v":0.4},{"r":1000,"m":200,"t":6.6,"v":0.3},{"r":1000,"m":200,"t":6.9,"v":0.35},{"r":1000,"m":200,"t":7.02,"v":-1.5},{"r":1000,"m":200,"t":7.14,"v":-2.43},{"r":1000,"m":200,"t":7.28,"v":-1.5},{"r":1000,"m":200,"t":7.54,"v":1.43},{"r":1000,"m":200,"t":7.97,"v":0.83},{"r":1000,"m":200,"t":8.31,"v":-0.33},{"r":1000,"m":200,"t":8.66,"v":0.67},{"r":1000,"m":200,"t":8.9,"v":0.4},{"r":1000,"m":200,"t":9.2,"v":0.3},{"r":1000,"m":200,"t":9.5,"v":0.35},{"r":1000,"m":200,"t":9.8,"v":0.25},{"r":1000,"m":200,"t":10.1,"v":0.35},{"r":1000,"m":200,"t":10.4,"v":0.3},{"r":1000,"m":200,"t":10.7,"v":0.35},{"r":1000,"m":200,"t":11.0,"v":0.25},{"r":1000,"m":200,"t":11.3,"v":0.35},{"r":1000,"m":200,"t":11.6,"v":0.3},{"r":1000,"m":200,"t":11.9,"v":0.35},{"r":1000,"m":200,"t":12.12,"v":-1.5},{"r":1000,"m":200,"t":12.23,"v":-2.5},{"r":1000,"m":200,"t":12.35,"v":-1.57},{"r":1000,"m":200,"t":12.61,"v":1.57},{"r":1000,"m":200,"t":12.95,"v":0.83},{"r":1000,"m":200,"t":13.29,"v":-0.57},{"r":1000,"m":200,"t":13.64,"v":0.5},{"r":1000,"m":200,"t":13.9,"v":0.3},{"r":1000,"m":200,"t":14.2,"v":0.35},{"r":1000,"m":200,"t":14.5,"v":0.25},{"r":1000,"m":200,"t":14.8,"v":0.35},{"r":1000,"m":200,"t":15.1,"v":0.3},{"r":1000,"m":200,"t":15.4,"v":0.35},{"r":1000,"m":200,"t":15.7,"v":0.25},{"r":1000,"m":200,"t":16.0,"v":0.35},{"r":1000,"m":200,"t":16.3,"v":0.25},{"r":1000,"m":200,"t":16.6,"v":0.35},{"r":1000,"m":200,"t":16.9,"v":0.3},{"r":1000,"m":200,"t":17.12,"v":-1.5},{"r":1000,"m":200,"t":17.21,"v":-2.33},{"r":1000,"m":200,"t":17.33,"v":-1.5},{"r":1000,"m":200,"t":17.59,"v":1.67},{"r":1000,"m":200,"t":17.93,"v":0.83},{"r":1000,"m":200,"t":18.27,"v":-0.67},{"r":1000,"m":200,"t":18.62,"v":0.67},{"r":1000,"m":200,"t":18.9,"v":0.3},{"r":1000,"m":200,"t":19.2,"v":0.25},{"r":1000,"m":200,"t":19.5,"v":0.3},{"r":1000,"m":200,"t":19.8,"v":0.2},{"r":1000,"m":200,"t":20.1,"v":0.3},{"r":1000,"m":200,"t":20.42,"v":0.25}
]},
"spacing":{"row":117,"column":25},
"facet":{
 "column":{"field":"r","type":"ordinal","sort":"ascending","title":null,"header":{"labels":false}},
 "row":{"field":"m","type":"ordinal","sort":"ascending","title":null,"header":{"labels":false}}
},
"spec":{
 "width":396,"height":140,
 "layer":[
  {"transform":[{"filter":"isValid(datum.v)"}],
   "mark":{"type":"line","color":"black","strokeWidth":2.2,"strokeJoin":"round"},
   "encoding":{"x":{"field":"t","type":"quantitative","scale":{"domain":[0,20.4]},"axis":null},
               "y":{"field":"v","type":"quantitative","scale":{"domain":[-7,7]},"axis":null}}},
  {"transform":[{"filter":"isValid(datum.lo)"}],
   "mark":{"type":"rule","color":"black","strokeWidth":1.8},
   "encoding":{"x":{"field":"t","type":"quantitative","scale":{"domain":[0,20.4]},"axis":null},
               "y":{"field":"lo","type":"quantitative","scale":{"domain":[-7,7]},"axis":null},
               "y2":{"field":"hi"}}},
  {"transform":[{"filter":"isValid(datum.a)"}],
   "mark":{"type":"text","align":"right","baseline":"alphabetic","font":"Liberation Serif","fontSize":26,"color":"black","dx":-39},
   "encoding":{"x":{"datum":20.4,"type":"quantitative","scale":{"domain":[0,20.4]},"axis":null},
               "y":{"datum":7.1,"type":"quantitative","scale":{"domain":[-7,7]},"axis":null},
               "text":{"field":"a"}}},
  {"transform":[{"filter":"isValid(datum.a)"}],
   "mark":{"type":"text","align":"right","baseline":"alphabetic","font":"Liberation Serif","fontSize":26,"fontStyle":"italic","color":"black","dx":-19,"text":"μ"},
   "encoding":{"x":{"datum":20.4,"type":"quantitative","scale":{"domain":[0,20.4]},"axis":null},
               "y":{"datum":7.1,"type":"quantitative","scale":{"domain":[-7,7]},"axis":null}}},
  {"transform":[{"filter":"isValid(datum.a)"}],
   "mark":{"type":"text","align":"right","baseline":"alphabetic","font":"Liberation Serif","fontSize":26,"color":"black","text":"A"},
   "encoding":{"x":{"datum":20.4,"type":"quantitative","scale":{"domain":[0,20.4]},"axis":null},
               "y":{"datum":7.1,"type":"quantitative","scale":{"domain":[-7,7]},"axis":null}}},
  {"transform":[{"filter":"isValid(datum.c)"}],
   "mark":{"type":"text","align":"center","baseline":"middle","font":"Liberation Serif","fontSize":28,"fontWeight":"bold","color":"black"},
   "encoding":{"x":{"datum":9.5,"type":"quantitative","scale":{"domain":[0,20.4]},"axis":null},
               "y":{"datum":13.7,"type":"quantitative","scale":{"domain":[-7,7]},"axis":null},
               "text":{"field":"c"}}},
  {"transform":[{"filter":"isValid(datum.h)"}],
   "mark":{"type":"text","align":"right","baseline":"middle","font":"Liberation Serif","fontSize":28,"fontWeight":"bold","color":"black"},
   "encoding":{"x":{"datum":-1.85,"type":"quantitative","scale":{"domain":[0,20.4]},"axis":null},
               "y":{"datum":-0.3,"type":"quantitative","scale":{"domain":[-7,7]},"axis":null},
               "text":{"field":"h"}}},
  {"transform":[{"filter":"isValid(datum.y)"}],
   "mark":{"type":"text","align":"center","baseline":"middle","angle":270,"font":"Liberation Serif","fontSize":32,"fontWeight":"bold","color":"black"},
   "encoding":{"x":{"datum":-7.88,"type":"quantitative","scale":{"domain":[0,20.4]},"axis":null},
               "y":{"datum":14.7,"type":"quantitative","scale":{"domain":[-7,7]},"axis":null},
               "text":{"field":"y"}}},
  {"transform":[{"filter":"isValid(datum.ct)"}],
   "mark":{"type":"text","align":"center","baseline":"middle","font":"Liberation Serif","fontSize":32,"fontWeight":"bold","color":"black"},
   "encoding":{"x":{"datum":9.84,"type":"quantitative","scale":{"domain":[0,20.4]},"axis":null},
               "y":{"datum":19.8,"type":"quantitative","scale":{"domain":[-7,7]},"axis":null},
               "text":{"field":"ct"}}}
 ]
}
}
